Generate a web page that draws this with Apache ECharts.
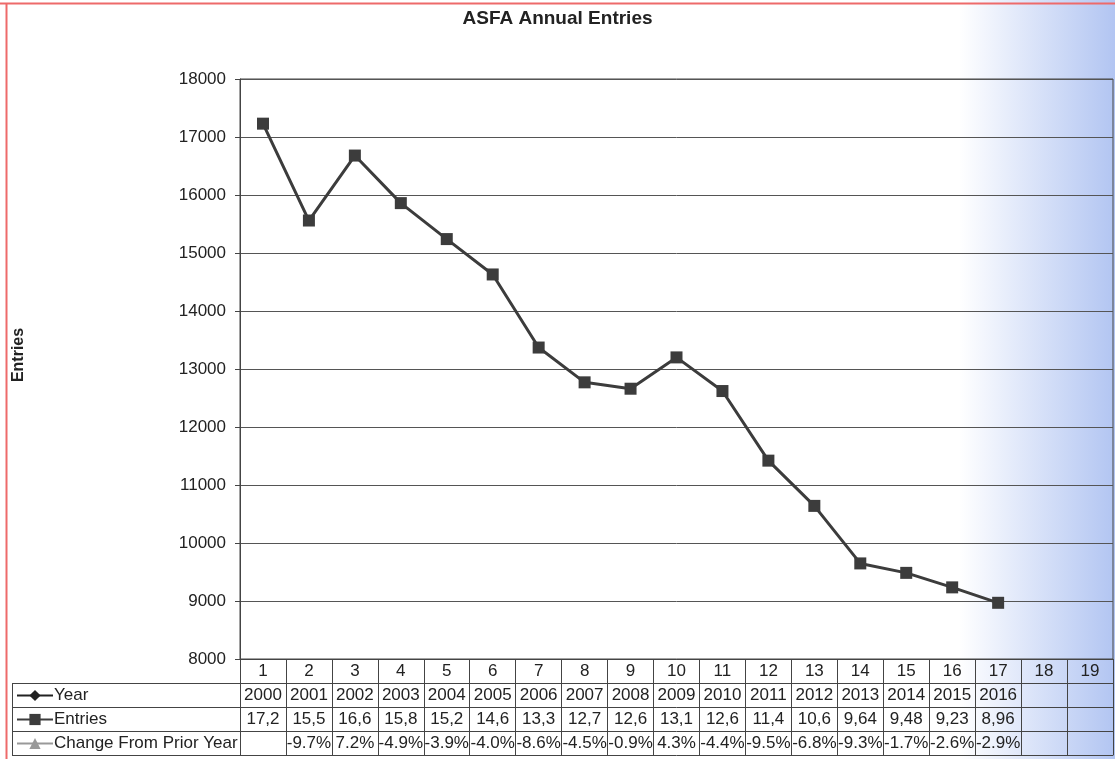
<!DOCTYPE html>
<html>
<head>
<meta charset="utf-8">
<script src="https://cdn.jsdelivr.net/npm/echarts@6/dist/echarts.min.js"></script>
<style>
html,body{margin:0;padding:0;background:#fff;}
#chart{width:1115px;height:759px;}
</style>
</head>
<body>
<div id="chart"></div>
<script>
// ---- data ----
var categories = ['1','2','3','4','5','6','7','8','9','10','11','12','13','14','15','16','17','18','19'];
var years = ['2000','2001','2002','2003','2004','2005','2006','2007','2008','2009','2010','2011','2012','2013','2014','2015','2016','',''];
var entries = [17230, 15560, 16680, 15860, 15240, 14630, 13370, 12770, 12660, 13200, 12620, 11420, 10640, 9648, 9485, 9235, 8969];
var entryCells = ['17,2','15,5','16,6','15,8','15,2','14,6','13,3','12,7','12,6','13,1','12,6','11,4','10,6','9,64','9,48','9,23','8,96','',''];
var changeCells = ['','-9.7%','7.2%','-4.9%','-3.9%','-4.0%','-8.6%','-4.5%','-0.9%','4.3%','-4.4%','-9.5%','-6.8%','-9.3%','-1.7%','-2.6%','-2.9%','',''];
var emptyRow = categories.map(function(){return '';});

var FONT = '"Liberation Sans", Arial, sans-serif';
var LINE = '#444';
var FS = 17;
var chart = echarts.init(document.getElementById('chart'));

function tableAxis(data, offset, showTicks, showLabel){
  return {
    type:'category', data:data, position:'bottom', offset:offset, gridIndex:0,
    boundaryGap:true,
    axisLine:{show:true, lineStyle:{color:LINE, width:1}},
    axisTick:{show:showTicks, length:24, interval:0, lineStyle:{color:LINE, width:1}},
    axisLabel:{show:showLabel, interval:0, margin:4, fontSize:FS, color:'#222', fontFamily:FONT},
    splitLine:{show:false}
  };
}

var gLeft = 240, gTop = 79, gBottom = 659;
var option = {
  animation:false,
  textStyle:{fontFamily:FONT},
  title:{text:'ASFA Annual Entries', left:'center', top:4,
    textStyle:{fontSize:19, fontWeight:'bold', color:'#222', fontFamily:FONT}},
  grid:{left:gLeft, right:2, top:gTop, bottom:759-gBottom, show:true, borderColor:LINE, borderWidth:1, backgroundColor:'transparent'},
  legend:{
    orient:'vertical', left:16, top:687, padding:0, itemWidth:36, itemHeight:14, itemGap:7,
    textStyle:{fontSize:FS, color:'#222', fontFamily:FONT, padding:[0,0,0,-4]},
    data:['Year','Entries','Change From Prior Year']
  },
  xAxis:[
    tableAxis(categories, 0, true, true),
    tableAxis(years, 24, true, true),
    tableAxis(entryCells, 48, true, true),
    tableAxis(changeCells, 72, true, true),
    tableAxis(emptyRow, 96, false, false)
  ],
  yAxis:{
    type:'value', min:8000, max:18000, interval:1000,
    name:'Entries', nameLocation:'middle', nameGap:213,
    nameTextStyle:{fontSize:16, fontWeight:'bold', color:'#222', fontFamily:FONT, padding:[0,0,0,28]},
    axisLine:{show:true, lineStyle:{color:LINE}},
    axisTick:{show:true, length:5, lineStyle:{color:LINE}},
    axisLabel:{fontSize:FS, color:'#222', margin:14, fontFamily:FONT,
      formatter:function(v){return String(v);}},
    splitLine:{show:true, lineStyle:{color:'#555', width:1}}
  },
  series:[
    {name:'Year', type:'line', data:[], symbol:'diamond', symbolSize:9,
      itemStyle:{color:'#222'}, lineStyle:{color:'#222', width:1.5}},
    {name:'Entries', type:'line', data:entries, xAxisIndex:0, symbol:'rect', symbolSize:12,
      itemStyle:{color:'#3c3c3c'}, lineStyle:{color:'#3c3c3c', width:3}, z:5},
    {name:'Change From Prior Year', type:'line', data:[], symbol:'triangle', symbolSize:10,
      itemStyle:{color:'#999'}, lineStyle:{color:'#999', width:1.5}}
  ],
  graphic:[
    {type:'rect', z:-100, silent:true, shape:{x:0,y:0,width:1115,height:759},
      style:{fill:new echarts.graphic.LinearGradient(0,0,1,0,[
        {offset:0,color:'#ffffff'},{offset:0.86,color:'#ffffff'},{offset:1,color:'#b2c5f2'}])}},
    {type:'line', silent:true, shape:{x1:0,y1:3.5,x2:1115,y2:3.5}, style:{stroke:'#ee6a6a', lineWidth:2}},
    {type:'line', silent:true, shape:{x1:6.5,y1:3,x2:6.5,y2:759}, style:{stroke:'#ee6a6a', lineWidth:2}},
    {type:'line', silent:true, shape:{x1:12.5,y1:683,x2:12.5,y2:755}, style:{stroke:LINE, lineWidth:1}},
    {type:'line', silent:true, shape:{x1:12,y1:683.5,x2:240,y2:683.5}, style:{stroke:LINE, lineWidth:1}},
    {type:'line', silent:true, shape:{x1:12,y1:707.5,x2:240,y2:707.5}, style:{stroke:LINE, lineWidth:1}},
    {type:'line', silent:true, shape:{x1:12,y1:731.5,x2:240,y2:731.5}, style:{stroke:LINE, lineWidth:1}},
    {type:'line', silent:true, shape:{x1:12,y1:755.5,x2:240,y2:755.5}, style:{stroke:LINE, lineWidth:1}}
  ]
};
chart.setOption(option);
</script>
</body>
</html>
